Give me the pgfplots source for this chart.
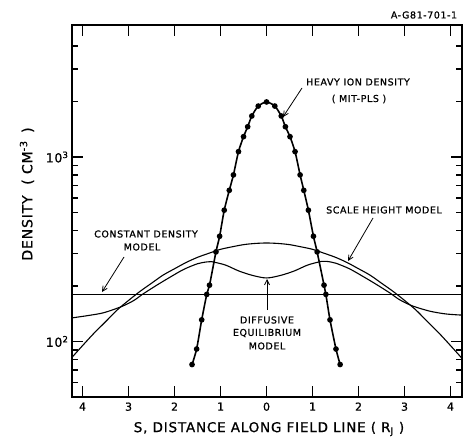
\documentclass[border=0pt]{standalone}
\usepackage{fontspec}
\setmainfont{DejaVu Sans}[LetterSpace=6, FakeBold=0.8]
\usepackage{pgfplots}
\pgfplotsset{compat=1.18}
\usetikzlibrary{arrows.meta}
\newcommand\annot{\fontsize{9.5}{11}\selectfont}
\begin{document}
\begin{tikzpicture}[x=1pt,y=1pt]
\useasboundingbox (-72,-42) rectangle (393,397);
\begin{axis}[
  at={(0,0)}, anchor=south west, scale only axis,
  width=390pt, height=372pt,
  ymode=log, xmin=-4.23, xmax=4.25, ymin=50, ymax=5200,
  xtick={-4,-3,-2,-1,0,1,2,3,4},
  xticklabels={4,3,2,1,0,1,2,3,4},
  ytick={100,1000},
  yticklabels={10\textsuperscript{2},10\textsuperscript{3}},
  minor ytick={60,70,80,90,200,300,400,500,600,700,800,900,2000,3000,4000},
  xtick pos=both, ytick pos=both,
  tick align=inside,
  major tick length=11pt, minor tick length=6pt,
  axis line style={line width=1.5pt},
  every tick/.style={black, line width=1.2pt},
  xticklabel style={font=\fontsize{11}{11}\selectfont, yshift=-2pt},
  yticklabel style={font=\fontsize{12.5}{12.5}\selectfont},
  clip=true,
]
% constant density model
\addplot[black, line width=0.9pt] coordinates {(-4.3,180) (4.3,180)};
% scale height model
\addplot[black, line width=1.1pt, smooth] coordinates {
(-4.25,81)(-4,95)(-3.75,111)(-3.5,128)(-3.25,148)(-3,167)(-2.75,187)(-2.5,207)(-2.25,229)(-2,248)(-1.75,268)(-1.5,286)(-1.25,301)(-1,316)(-0.75,326)(-0.5,335)(-0.25,340)(0,342)
(0.25,340)(0.5,335)(0.75,326)(1,316)(1.25,301)(1.5,286)(1.75,268)(2,248)(2.25,229)(2.5,207)(2.75,187)(3,167)(3.25,148)(3.5,128)(3.75,111)(4,95)(4.25,81)};
% diffusive equilibrium model
\addplot[black, line width=1.1pt, smooth] coordinates {
(-4.25,134)(-3.9,138)(-3.55,143)(-3.2,153)(-3.0,161)(-2.85,169)(-2.7,180)(-2.4,201)(-2.1,223)(-1.8,246)(-1.5,264)(-1.3,270)(-1.2,271)(-0.9,260)(-0.6,241)(-0.3,228)(0,221)
(0.3,228)(0.6,241)(0.9,260)(1.2,272)(1.3,272)(1.5,266)(1.8,248)(2.1,225)(2.4,203)(2.7,182)(2.85,171)(3.0,163)(3.2,155)(3.55,146)(3.9,141)(4.25,139)};
% heavy ion density (MIT-PLS)
\addplot[black, line width=1.6pt, mark=*, mark size=2pt, smooth, tension=0.4] coordinates {
(-1.62,75)(-1.52,91)(-1.41,131)(-1.30,180)(-1.24,202)(-1.10,306)(-1.02,372)(-0.92,515)(-0.81,660)(-0.72,800)(-0.61,1070)(-0.50,1290)(-0.41,1460)(-0.32,1670)(-0.18,1890)(0,1990)
(0.18,1890)(0.32,1670)(0.41,1460)(0.51,1290)(0.62,1070)(0.73,800)(0.81,660)(0.91,515)(1.02,372)(1.10,306)(1.25,202)(1.29,180)(1.38,131)(1.51,91)(1.60,75)};
\end{axis}
% annotations
\node[font=\annot] at (352,382) {A-G81-701-1};
\node[font=\annot] at (286,315) {HEAVY ION DENSITY};
\node[font=\annot] at (287,298) {( MIT-PLS )};
\draw[line width=0.8pt, -{Straight Barb[length=5pt,width=5pt]}] (230,309) -- (211,280);
\node[font=\annot] at (312,187) {SCALE HEIGHT MODEL};
\draw[line width=0.8pt, -{Straight Barb[length=5pt,width=5pt]}] (301,179) -- (276,136);
\node[font=\annot] at (74,163) {CONSTANT DENSITY};
\node[font=\annot] at (70,150) {MODEL};
\draw[line width=0.8pt, -{Straight Barb[length=5pt,width=5pt]}] (52,140) -- (30,105);
\node[font=\annot] at (195,77) {DIFFUSIVE};
\node[font=\annot] at (195,64) {EQUILIBRIUM};
\node[font=\annot] at (195,51) {MODEL};
\draw[line width=0.8pt, -{Straight Barb[length=5pt,width=5pt]}] (195,87) -- (195,118);
% axis labels
\node[font=\fontsize{13.5}{14}\selectfont] at (197,-32) {S, DISTANCE ALONG FIELD LINE ( R\textsubscript{J} )};
\node[font=\fontsize{14}{14}\selectfont, rotate=90] at (-45,203) {DENSITY \ ( CM\textsuperscript{-3} \,)};
\end{tikzpicture}
\end{document}
